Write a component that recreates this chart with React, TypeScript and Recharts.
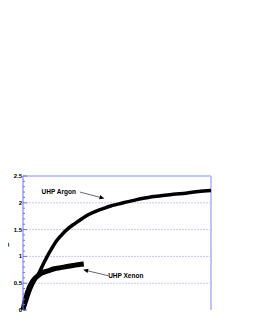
import React from "react";
import {
  LineChart, Line, XAxis, YAxis, CartesianGrid,
  ReferenceLine, ReferenceDot
} from "recharts";

// argon run, hours vs S
const argonHours = [0, 5, 10, 15, 20, 25, 30, 35, 40, 45, 50, 60, 70, 80, 90, 100, 110, 120, 130, 140, 150, 160, 175, 190, 200, 220, 240, 260, 280, 300];
const argonS = [0, 0.15, 0.33, 0.47, 0.58, 0.68, 0.8, 0.92, 1.03, 1.13, 1.23, 1.38, 1.5, 1.59, 1.67, 1.75, 1.81, 1.86, 1.9, 1.94, 1.97, 2.0, 2.04, 2.08, 2.1, 2.13, 2.16, 2.18, 2.21, 2.23];

// xenon run
const xenonHours = [0, 5, 10, 15, 20, 25, 30, 40, 50, 60, 70, 80, 90, 97];
const xenonS = [0, 0.25, 0.42, 0.53, 0.6, 0.65, 0.69, 0.73, 0.77, 0.79, 0.81, 0.83, 0.85, 0.86];

const xMajor = [0, 50, 100, 150, 200, 250, 300];
const yMajor = [0, 0.5, 1, 1.5, 2, 2.5];
const yGrid = [0.5, 1, 1.5, 2];
const xTicks = Array.from({ length: 31 }, (_, i) => i * 10);
const yTicks = Array.from({ length: 26 }, (_, i) => i / 10);

const argon = argonHours.map((h, i) => ({ h, s: argonS[i] }));
const xenon = xenonHours.map((h, i) => ({ h, s: xenonS[i] }));

const axisBlue = "#6f6fff";
const font = "'Liberation Sans', Arial, sans-serif";

const XTick = (props: any) => {
  const { x, y, payload } = props;
  const major = xMajor.includes(payload.value);
  return (
    <g>
      <line x1={x} y1={y} x2={x} y2={y - (major ? 4 : 2)} stroke={axisBlue} strokeWidth={1} />
      {major && (
        <text x={x} y={y + 8} textAnchor="middle" fontSize={6} fontWeight="bold" fontFamily={font} fill="#000">
          {payload.value}
        </text>
      )}
    </g>
  );
};

const YTick = (props: any) => {
  const { x, y, payload } = props;
  const major = yMajor.includes(payload.value);
  return (
    <g>
      <line x1={x} y1={y} x2={x + (major ? 4 : 2)} y2={y} stroke={axisBlue} strokeWidth={1} />
      {major && (
        <text x={x - 1} y={y + 2} textAnchor="end" fontSize={6} fontWeight="bold" fontFamily={font} fill="#000">
          {payload.value}
        </text>
      )}
    </g>
  );
};

const Arrow = (props: any) => {
  const { x1, y1, x2, y2 } = props;
  const a = Math.atan2(y2 - y1, x2 - x1);
  const l = 5;
  const w = 2.2;
  const bx = x2 - l * Math.cos(a);
  const by = y2 - l * Math.sin(a);
  const px = -Math.sin(a) * w;
  const py = Math.cos(a) * w;
  return (
    <g>
      <line x1={x1} y1={y1} x2={bx} y2={by} stroke="#000" strokeWidth={0.6} />
      <polygon points={`${x2},${y2} ${bx + px},${by + py} ${bx - px},${by - py}`} fill="#000" />
    </g>
  );
};

export default function App() {
  return (
    <div style={{ margin: "-8px 0 0 -8px" }}>
      <LineChart width={253} height={327} margin={{ top: 176, right: 42, bottom: 17, left: 8 }}>
        <CartesianGrid horizontal vertical={false} horizontalValues={yGrid} stroke="#c8c8f6" strokeDasharray="2 1" />
        <XAxis
          type="number"
          dataKey="h"
          domain={[0, 300]}
          ticks={xTicks}
          interval={0}
          height={0}
          tickSize={0}
          tickMargin={0}
          tickLine={false}
          axisLine={{ stroke: axisBlue }}
          tick={(p: any) => <XTick {...p} />}
          label={{ value: "hours", position: "insideBottom", offset: -13, fontSize: 6.5, fontWeight: "bold", fontFamily: font, fill: "#000" }}
        />
        <YAxis
          type="number"
          dataKey="s"
          domain={[0, 2.5]}
          ticks={yTicks}
          interval={0}
          width={15}
          tickSize={0}
          tickMargin={0}
          tickLine={false}
          axisLine={{ stroke: axisBlue }}
          tick={(p: any) => <YTick {...p} />}
          label={{ value: "S", angle: -90, position: "insideLeft", offset: -1, dy: 4, fontSize: 7, fontWeight: "bold", fontFamily: font, fill: "#000" }}
        />
        <ReferenceLine y={2.5} stroke="#8c8cff" strokeWidth={1} />
        <ReferenceLine x={300} stroke="#c2c2ff" strokeWidth={2} />
        <Line data={xenon} dataKey="s" type="monotone" stroke="#000" strokeWidth={5} dot={false} isAnimationActive={false} />
        <Line data={argon} dataKey="s" type="monotone" stroke="#000" strokeWidth={3.5} dot={false} isAnimationActive={false} />
        <ReferenceLine segment={[{ x: 91, y: 2.2 }, { x: 130, y: 2.08 }]} shape={(p: any) => <Arrow {...p} />} />
        <ReferenceLine segment={[{ x: 136, y: 0.64 }, { x: 96, y: 0.75 }]} shape={(p: any) => <Arrow {...p} />} />
        <ReferenceDot x={57} y={2.2} r={0} label={{ value: "UHP Argon", position: "center", fontSize: 6.5, fontWeight: "bold", fontFamily: font, fill: "#000" }} />
        <ReferenceDot x={164} y={0.64} r={0} label={{ value: "UHP Xenon", position: "center", fontSize: 6.5, fontWeight: "bold", fontFamily: font, fill: "#000" }} />
      </LineChart>
    </div>
  );
}
